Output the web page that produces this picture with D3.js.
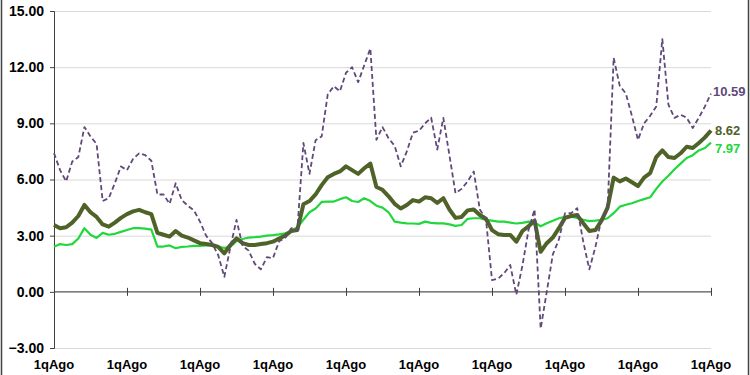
<!DOCTYPE html>
<html>
<head>
<meta charset="utf-8">
<script src="https://cdn.jsdelivr.net/npm/d3@7.9.0/dist/d3.min.js"></script>
<style>
  html, body { margin: 0; padding: 0; background: #fff; }
  svg { display: block; font-family: Arial, "Liberation Sans", sans-serif; }
</style>
</head>
<body>
<div id="chart"></div>
<script>
// monthly points, Jan 2013 .. Jan 2022
const startMonth = new Date(2013, 0, 1);
const endMonth = new Date(2022, 0, 1);

const purpleVals = [
  7.41, 6.5, 5.9, 6.96, 7.2, 8.8, 8.3, 7.9, 4.85, 5.0, 5.8, 6.7,
  6.5, 7.1, 7.4, 7.3, 7.0, 5.2, 5.2, 4.7, 5.8, 4.9, 4.6, 4.35,
  3.75, 3.0, 2.6, 1.95, 0.8, 2.4, 3.84, 2.45, 2.2, 1.5, 1.2, 1.85,
  1.8, 2.7, 2.88, 3.4, 3.3, 7.95, 6.3, 8.1, 8.3, 10.55, 10.98, 10.71,
  11.7, 12.0, 11.2, 12.1, 13.0, 8.12, 8.8, 8.2, 7.8, 6.7, 7.5, 8.5,
  8.6, 9.0, 9.3, 7.6, 9.29, 7.3, 5.27, 5.5, 5.9, 6.43, 4.4, 3.9,
  0.63, 0.7, 1.0, 1.43, -0.15, 1.4, 3.3, 4.4, -1.96, 0.0, 2.0, 2.8,
  4.2, 4.2, 4.47, 2.68, 1.2, 2.4, 3.9, 4.4, 12.5, 11.0, 10.6, 9.4,
  8.12, 9.0, 9.4, 9.9, 13.5, 10.0, 9.29, 9.46, 9.3, 8.75, 9.3, 9.9,
  10.59
];

const darkVals = [
  3.57, 3.4, 3.45, 3.7, 4.05, 4.64, 4.25, 4.0, 3.6, 3.48, 3.7, 3.95,
  4.15, 4.3, 4.38, 4.25, 4.15, 3.15, 3.05, 2.95, 3.25, 3.0, 2.9, 2.75,
  2.6, 2.55, 2.5, 2.4, 2.06, 2.5, 2.86, 2.6, 2.5, 2.5, 2.55, 2.6,
  2.68, 2.85, 3.0, 3.25, 3.3, 4.68, 4.85, 5.2, 5.7, 6.12, 6.3, 6.43,
  6.7, 6.5, 6.3, 6.6, 6.85, 5.6, 5.45, 5.1, 4.7, 4.45, 4.64, 4.9,
  4.82, 5.05, 5.0, 4.75, 5.0, 4.4, 3.95, 4.0, 4.35, 4.4, 4.1, 3.9,
  3.3, 3.08, 3.04, 3.04, 2.68, 3.25, 3.5, 3.8, 2.14, 2.6, 2.9, 3.4,
  3.95, 4.05, 4.1, 3.66, 3.25, 3.3, 3.8, 4.5, 6.1, 5.9, 6.05, 5.85,
  5.65, 6.1, 6.34, 7.2, 7.55, 7.2, 7.15, 7.4, 7.75, 7.68, 7.95, 8.25,
  8.62
];

const greenVals = [
  2.41, 2.55, 2.5, 2.55, 2.85, 3.4, 3.05, 2.88, 3.15, 3.05, 3.1, 3.2,
  3.3, 3.4, 3.4, 3.38, 3.32, 2.42, 2.42, 2.48, 2.33, 2.4, 2.42, 2.45,
  2.45, 2.48, 2.5, 2.4, 2.35, 2.41, 2.7, 2.82, 2.9, 2.92, 2.95, 3.0,
  3.03, 3.07, 3.13, 3.25, 3.45, 3.85, 4.25, 4.45, 4.8, 4.82, 4.82, 4.95,
  5.05, 4.85, 4.8, 5.0, 4.85, 4.6, 4.5, 4.25, 3.75, 3.7, 3.66, 3.65,
  3.63, 3.75, 3.68, 3.66, 3.66, 3.6, 3.52, 3.57, 3.9, 3.93, 3.93, 3.84,
  3.8, 3.75, 3.75, 3.7, 3.65, 3.68, 3.75, 3.7, 3.5, 3.66, 3.8, 3.93,
  4.0, 4.02, 3.95, 3.85, 3.78, 3.8, 3.84, 3.93, 4.2, 4.55, 4.65, 4.73,
  4.85, 4.95, 5.05, 5.5, 5.89, 6.2, 6.55, 6.85, 7.15, 7.3, 7.55, 7.68,
  7.97
];

const yTicks = [-3, 0, 3, 6, 9, 12, 15];
const tickYears = ['2013', '2014', '2015', '2016', '2017', '2018', '2019', '2020', '2021', '2022'];
const endLabels = ['10.59', '8.62', '7.97'];

const width = 750;
const height = 375;
const margin = { top: 11, right: 39, bottom: 27, left: 54 };

const months = d3.timeMonth.range(startMonth, d3.timeMonth.offset(endMonth, 1));

const svg = d3.select('#chart')
  .append('svg')
  .attr('width', width)
  .attr('height', height);

// outer frame
svg.append('rect')
  .attr('x', 1.5).attr('y', -5)
  .attr('width', 747).attr('height', 400)
  .attr('fill', 'none')
  .attr('stroke', '#404040')
  .attr('stroke-width', 1.5);

const xScale = d3.scaleLinear()
  .domain([0, months.length - 1])
  .range([margin.left, width - margin.right]);

const yScale = d3.scaleLinear()
  .domain([-3, 15])
  .range([height - margin.bottom, margin.top]);

// gridlines
svg.append('g')
  .attr('class', 'gridlines')
  .attr('transform', `translate(${margin.left}, 0)`)
  .call(d3.axisLeft(yScale).tickValues(yTicks).tickFormat('').tickSize(-(width - margin.left - margin.right)))
  .call(g => g.select('.domain').remove())
  .call(g => g.selectAll('line').attr('stroke', '#d9d9d9').attr('stroke-width', 1));

// y axis
const yAxis = svg.append('g')
  .attr('transform', `translate(${margin.left}, 0)`)
  .call(d3.axisLeft(yScale).tickValues(yTicks).tickFormat(d3.format('.2f')).tickSize(4).tickPadding(6));
yAxis.select('.domain').attr('stroke', '#404040');
yAxis.selectAll('line').attr('stroke', '#404040');
yAxis.selectAll('text')
  .attr('fill', '#000')
  .style('font-size', '14px')
  .style('font-weight', 'bold');

// x axis at zero, ticks every January
const yearIdx = tickYears.map((y, i) => i * 12);
const xAxis = svg.append('g')
  .attr('transform', `translate(0, ${yScale(0)})`)
  .call(d3.axisBottom(xScale).tickValues(yearIdx).tickFormat('').tickSize(4));
xAxis.select('.domain').attr('stroke', '#404040').attr('d', `M${margin.left},0H${width - margin.right}`);
xAxis.selectAll('.tick line').attr('stroke', '#404040').attr('y1', -4).attr('y2', 4);

// category labels at the bottom (second line runs off the frame, as in the source)
const lab = svg.append('g')
  .selectAll('text')
  .data(tickYears)
  .join('text')
  .attr('x', (d, i) => xScale(i * 12))
  .attr('y', 369)
  .attr('text-anchor', 'middle')
  .style('font-size', '13px')
  .style('font-weight', 'bold')
  .attr('fill', '#000');
lab.append('tspan').attr('x', (d, i) => xScale(i * 12)).text('1qAgo');
lab.append('tspan').attr('x', (d, i) => xScale(i * 12)).attr('dy', 16).text(d => d);

const line = d3.line()
  .x((d, i) => xScale(i))
  .y(d => yScale(d));

const series = [
  { vals: greenVals, color: '#21d83c', w: 2.2, dash: null },
  { vals: darkVals, color: '#4f6228', w: 4, dash: null },
  { vals: purpleVals, color: '#60497a', w: 1.8, dash: '5,3' }
];

svg.append('g')
  .selectAll('path')
  .data(series)
  .join('path')
  .attr('d', d => line(d.vals))
  .attr('fill', 'none')
  .attr('stroke', d => d.color)
  .attr('stroke-width', d => d.w)
  .attr('stroke-dasharray', d => d.dash)
  .attr('stroke-linejoin', 'round');

// end labels
const endData = [
  { text: endLabels[0], color: '#60497a', y: 91, x: 713 },
  { text: endLabels[1], color: '#4f6228', y: 130, x: 715 },
  { text: endLabels[2], color: '#21d83c', y: 148, x: 715 }
];
svg.append('g')
  .selectAll('text')
  .data(endData)
  .join('text')
  .attr('x', d => d.x)
  .attr('y', d => d.y)
  .attr('dy', '0.35em')
  .style('font-size', '13px')
  .style('font-weight', 'bold')
  .attr('fill', d => d.color)
  .text(d => d.text);
</script>
</body>
</html>
